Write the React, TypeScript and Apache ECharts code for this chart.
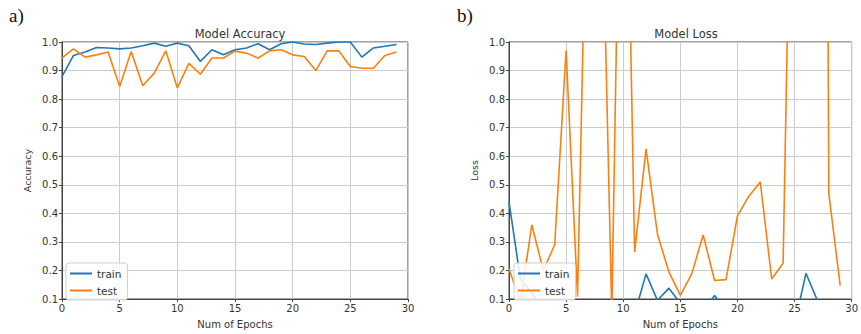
import React, { useEffect, useRef } from "react";
import * as echarts from "echarts";

const epochs = Array.from({ length: 30 }, (_, i) => i);
const accTrain = [0.879, 0.953, 0.965, 0.981, 0.979, 0.976, 0.979, 0.987, 0.996, 0.985, 0.996, 0.987, 0.932, 0.973, 0.955, 0.973, 0.979, 0.994, 0.973, 0.994, 1.0, 0.993, 0.991, 0.996, 1.0, 1.0, 0.947, 0.979, 0.985, 0.991];
const accTest = [0.944, 0.976, 0.947, 0.955, 0.965, 0.844, 0.967, 0.847, 0.891, 0.969, 0.839, 0.925, 0.887, 0.944, 0.944, 0.968, 0.961, 0.944, 0.969, 0.973, 0.955, 0.949, 0.9, 0.969, 0.969, 0.914, 0.908, 0.908, 0.953, 0.965];
const lossTrain = [0.44, 0.17, 0.12, 0.06, 0.06, 0.06, 0.065, 0.055, 0.04, 0.035, 0.04, 0.048, 0.188, 0.095, 0.138, 0.085, 0.06, 0.055, 0.112, 0.06, 0.03, 0.02, 0.025, 0.03, 0.01, 0.01, 0.19, 0.095, 0.04, 0.035];
const lossTest = [0.206, 0.09, 0.36, 0.2, 0.29, 0.97, 0.108, 1.97, 1.8, 0.05, 2.4, 0.265, 0.626, 0.327, 0.195, 0.113, 0.188, 0.324, 0.165, 0.168, 0.391, 0.46, 0.51, 0.17, 0.225, 2.4, 5.0, 9.5, 0.47, 0.147];
const xTicks = [0, 5, 10, 15, 20, 25, 30];
const yTicks = [0.1, 0.2, 0.3, 0.4, 0.5, 0.6, 0.7, 0.8, 0.9, 1.0];

const BLUE = "#1f77b4";
const ORANGE = "#ff7f0e";
const FONT = "DejaVu Sans";

export default function App() {
  const ref = useRef<HTMLDivElement>(null);
  useEffect(() => {
    if (!ref.current) return;
    const chart = echarts.init(ref.current, null, { renderer: "svg" });
    const grids = [
      { left: 62, right: 453, top: 42, bottom: 34 },
      { left: 509, right: 7, top: 42, bottom: 34 },
    ];
    const xAxisBase = (gi: number) => ({
      type: "value",
      gridIndex: gi,
      min: xTicks[0],
      max: xTicks[xTicks.length - 1],
      interval: 5,
      name: "Num of Epochs",
      nameLocation: "middle",
      nameGap: 20,
      nameTextStyle: { fontFamily: FONT, fontSize: 10, color: "#333" },
      axisLine: { show: true, onZero: false, lineStyle: { color: "#444", width: 1 } },
      axisTick: { show: true, length: 3, lineStyle: { color: "#444" } },
      axisLabel: { fontFamily: FONT, fontSize: 10, color: "#333", margin: 4 },
      splitLine: { show: true, lineStyle: { color: "#cccccc", width: 1 } },
    });
    const yAxisBase = (gi: number, name: string) => ({
      type: "value",
      gridIndex: gi,
      min: yTicks[0],
      max: yTicks[yTicks.length - 1],
      interval: 0.1,
      name,
      nameLocation: "middle",
      nameGap: 30,
      nameTextStyle: { fontFamily: FONT, fontSize: 9.5, color: "#333" },
      axisLine: { show: true, lineStyle: { color: "#444", width: 1 } },
      axisTick: { show: true, length: 3, lineStyle: { color: "#444" } },
      axisLabel: {
        fontFamily: FONT,
        fontSize: 10,
        color: "#333",
        margin: 4,
        formatter: (v: number) => v.toFixed(1),
      },
      splitLine: { show: true, lineStyle: { color: "#cccccc", width: 1 } },
    });
    const mk = (name: string, gi: number, data: number[], color: string) => ({
      type: "line",
      name,
      xAxisIndex: gi,
      yAxisIndex: gi,
      data: epochs.map((e, i) => [e, data[i]]),
      symbol: "none",
      clip: true,
      lineStyle: { color, width: 1.6 },
      itemStyle: { color },
    });
    const legendBase = (left: number) => ({
      orient: "vertical",
      left,
      top: 263,
      data: ["train", "test"],
      icon: "rect",
      itemWidth: 22,
      itemHeight: 2,
      itemGap: 6,
      padding: [5, 6, 4, 4],
      borderColor: "#d0d0d0",
      borderWidth: 1,
      borderRadius: 3,
      backgroundColor: "rgba(255,255,255,0.85)",
      textStyle: { fontFamily: FONT, fontSize: 10.5, color: "#333" },
      selectedMode: false,
    });
    chart.setOption({
      animation: false,
      backgroundColor: "#fff",
      title: [
        {
          text: "Model Accuracy",
          left: 235,
          top: 23,
          textAlign: "center",
          textStyle: { fontFamily: FONT, fontSize: 11.5, fontWeight: "normal", color: "#333" },
        },
        {
          text: "Model Loss",
          left: 681,
          top: 23,
          textAlign: "center",
          textStyle: { fontFamily: FONT, fontSize: 11.5, fontWeight: "normal", color: "#333" },
        },
      ],
      grid: grids.map((g) => ({ ...g, show: true, borderColor: "#444", borderWidth: 1, backgroundColor: "transparent" })),
      xAxis: [xAxisBase(0), xAxisBase(1)],
      yAxis: [yAxisBase(0, "Accuracy"), yAxisBase(1, "Loss")],
      legend: [legendBase(66), legendBase(514)],
      series: [
        mk("train", 0, accTrain, BLUE),
        mk("test", 0, accTest, ORANGE),
        mk("train", 1, lossTrain, BLUE),
        mk("test", 1, lossTest, ORANGE),
      ],
      graphic: [
        {
          type: "text",
          left: 9,
          top: 6,
          style: { text: "a)", fontFamily: "Liberation Serif", fontSize: 19, fill: "#111" },
        },
        {
          type: "text",
          left: 457,
          top: 6,
          style: { text: "b)", fontFamily: "Liberation Serif", fontSize: 19, fill: "#111" },
        },
      ],
    });
    return () => chart.dispose();
  }, []);
  return <div ref={ref} style={{ width: 861, height: 334, position: "absolute", left: 0, top: 0 }} />;
}
